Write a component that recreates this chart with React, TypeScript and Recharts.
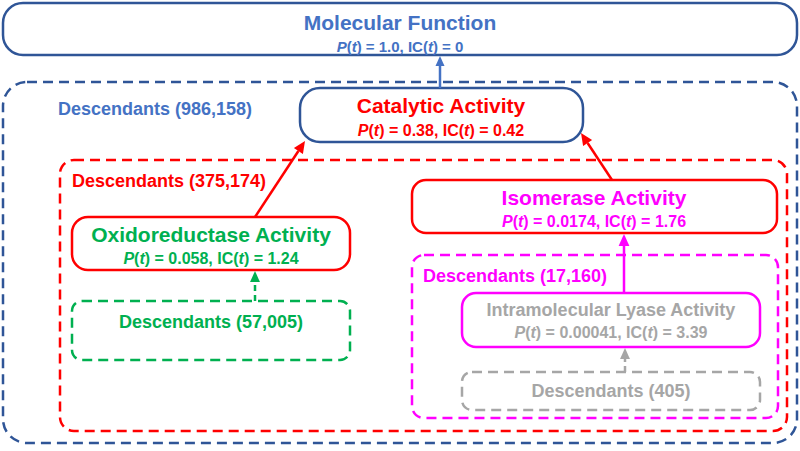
import React from 'react';
import { ComposedChart, XAxis, YAxis, Scatter, ReferenceArea, ReferenceLine } from 'recharts';

const FONT = '"Liberation Sans", Arial, sans-serif';

// GO terms along the path Molecular Function -> Intramolecular Lyase Activity
const terms = [
  'Molecular Function',
  'Catalytic Activity',
  'Oxidoreductase Activity',
  'Isomerase Activity',
  'Intramolecular Lyase Activity',
];
const termProb = ['1.0', '0.38', '0.058', '0.0174', '0.00041'];
const termIC = ['0', '0.42', '1.24', '1.76', '3.39'];
const descendantCounts = [986158, 375174, 57005, 17160, 405];
const parents = [-1, 0, 1, 1, 3];

// layout, in diagram units (x 0..800, y 0..451 counted from the top)
const nodeBoxes = [
  [3, 797, 3, 55],
  [300, 583, 88, 142],
  [72, 350, 217, 270],
  [412, 777, 180, 233],
  [462, 760, 293, 347],
];
const nodeRadius = [20, 20, 16, 14, 14];
const descBoxes = [
  [3, 797, 82, 443],
  [60, 787, 160, 431],
  [72, 350, 301, 360],
  [412, 778, 255, 418],
  [462, 760, 372, 410],
];
const descRadius = [24, 14, 10, 12, 10];
const titleAnchor = [[400, 30], [441, 113], [211, 242], [594, 205], [611, 316]];
const subAnchor = [[400, 52], [441, 136], [211, 264], [594, 227], [611, 338]];
const descAnchor = [[58, 115], [72, 187], [211, 328], [423, 282], [611, 397]];
const descAlign = ['start', 'start', 'middle', 'start', 'middle'];
const titleSize = [21, 21, 21, 21, 18];
const subSize = [15, 16, 16, 16, 16];

// edges: child box -> parent box (start / end points)
const edgeFrom = [null, [440, 88], [255, 217], [612, 180], [624, 293]];
const edgeTo = [null, [440, 56], [305, 141], [581, 133], [624, 234]];
// dashed arrows: descendant set -> its term
const descFrom = [null, null, [255, 301], null, [625, 372]];
const descTo = [null, null, [255, 271], null, [625, 348]];

const nodeStroke = ['#2F5597', '#2F5597', '#FF0000', '#FF0000', '#FF00FF'];
const termColor = ['#4472C4', '#FF0000', '#00B050', '#FF00FF', '#A6A6A6'];
const descStroke = ['#2F5597', '#FF0000', '#00B050', '#FF00FF', '#A6A6A6'];
const descText = ['#4472C4', '#FF0000', '#00B050', '#FF00FF', '#A6A6A6'];
const edgeColor = ['', '#4472C4', '#FF0000', '#FF0000', '#FF00FF'];

const labels = terms.flatMap((t, i) => [
  { x: titleAnchor[i][0], y: titleAnchor[i][1], kind: 'title', i },
  { x: subAnchor[i][0], y: subAnchor[i][1], kind: 'sub', i },
  { x: descAnchor[i][0], y: descAnchor[i][1], kind: 'desc', i },
]);

const LabelMark = (props: any) => {
  const { cx, cy, payload } = props;
  const i = payload.i;
  if (payload.kind === 'title') {
    return (
      <text x={cx} y={cy} textAnchor="middle" fill={termColor[i]} fontSize={titleSize[i]} fontWeight="bold" fontFamily={FONT}>
        {terms[i]}
      </text>
    );
  }
  if (payload.kind === 'sub') {
    return (
      <text x={cx} y={cy} textAnchor="middle" fill={termColor[i]} fontSize={subSize[i]} fontWeight="bold" fontFamily={FONT}>
        <tspan fontStyle="italic">P</tspan>
        <tspan>(</tspan>
        <tspan fontStyle="italic">t</tspan>
        <tspan>{`) = ${termProb[i]}, IC(`}</tspan>
        <tspan fontStyle="italic">t</tspan>
        <tspan>{`) = ${termIC[i]}`}</tspan>
      </text>
    );
  }
  return (
    <text x={cx} y={cy} textAnchor={descAlign[i]} fill={descText[i]} fontSize={18} fontWeight="bold" fontFamily={FONT}>
      {`Descendants (${descendantCounts[i].toLocaleString('en-US')})`}
    </text>
  );
};

const boxShape = (stroke: string, radius: number, dashed: boolean, fill: string) => (p: any) => (
  <rect
    x={p.x}
    y={p.y}
    width={p.width}
    height={p.height}
    rx={radius}
    ry={radius}
    fill={fill}
    stroke={stroke}
    strokeWidth={2.5}
    strokeDasharray={dashed ? '10 6' : undefined}
  />
);

const arrowShape = (color: string, dashed: boolean, head: number) => (p: any) => {
  const { x1, y1, x2, y2 } = p;
  const dx = x2 - x1;
  const dy = y2 - y1;
  const len = Math.hypot(dx, dy) || 1;
  const ux = dx / len;
  const uy = dy / len;
  const bx = x2 - ux * head;
  const by = y2 - uy * head;
  const w = head * 0.45;
  const pts = `${x2},${y2} ${bx - uy * w},${by + ux * w} ${bx + uy * w},${by - ux * w}`;
  return (
    <g>
      <line x1={x1} y1={y1} x2={bx} y2={by} stroke={color} strokeWidth={2.5} strokeDasharray={dashed ? '6 4' : undefined} />
      <polygon points={pts} fill={color} />
    </g>
  );
};

export default function App() {
  return (
    <div style={{ position: 'absolute', left: 0, top: 0, width: 800, height: 451, background: '#fff' }}>
      <ComposedChart width={800} height={451} data={labels} margin={{ top: 0, right: 0, bottom: 0, left: 0 }}>
        <XAxis type="number" dataKey="x" domain={[0, 800]} hide />
        <YAxis type="number" dataKey="y" domain={[0, 451]} reversed hide />

        {descBoxes.map((b, i) => (
          <ReferenceArea
            key={`desc-${i}`}
            x1={b[0]}
            x2={b[1]}
            y1={b[2]}
            y2={b[3]}
            shape={boxShape(descStroke[i], descRadius[i], true, 'none')}
          />
        ))}
        {nodeBoxes.map((b, i) => (
          <ReferenceArea
            key={`node-${i}`}
            x1={b[0]}
            x2={b[1]}
            y1={b[2]}
            y2={b[3]}
            shape={boxShape(nodeStroke[i], nodeRadius[i], false, '#fff')}
          />
        ))}

        {parents.map((par, i) =>
          par < 0 ? null : (
            <ReferenceLine
              key={`edge-${i}`}
              segment={[
                { x: edgeFrom[i]![0], y: edgeFrom[i]![1] },
                { x: edgeTo[i]![0], y: edgeTo[i]![1] },
              ]}
              shape={arrowShape(edgeColor[i], false, i === 1 ? 10 : 12)}
            />
          )
        )}
        {descFrom.map((f, i) =>
          f ? (
            <ReferenceLine
              key={`darrow-${i}`}
              segment={[
                { x: f[0], y: f[1] },
                { x: descTo[i]![0], y: descTo[i]![1] },
              ]}
              shape={arrowShape(descStroke[i], true, 11)}
            />
          ) : null
        )}

        <Scatter dataKey="y" data={labels} shape={LabelMark} isAnimationActive={false} />
      </ComposedChart>
    </div>
  );
}
